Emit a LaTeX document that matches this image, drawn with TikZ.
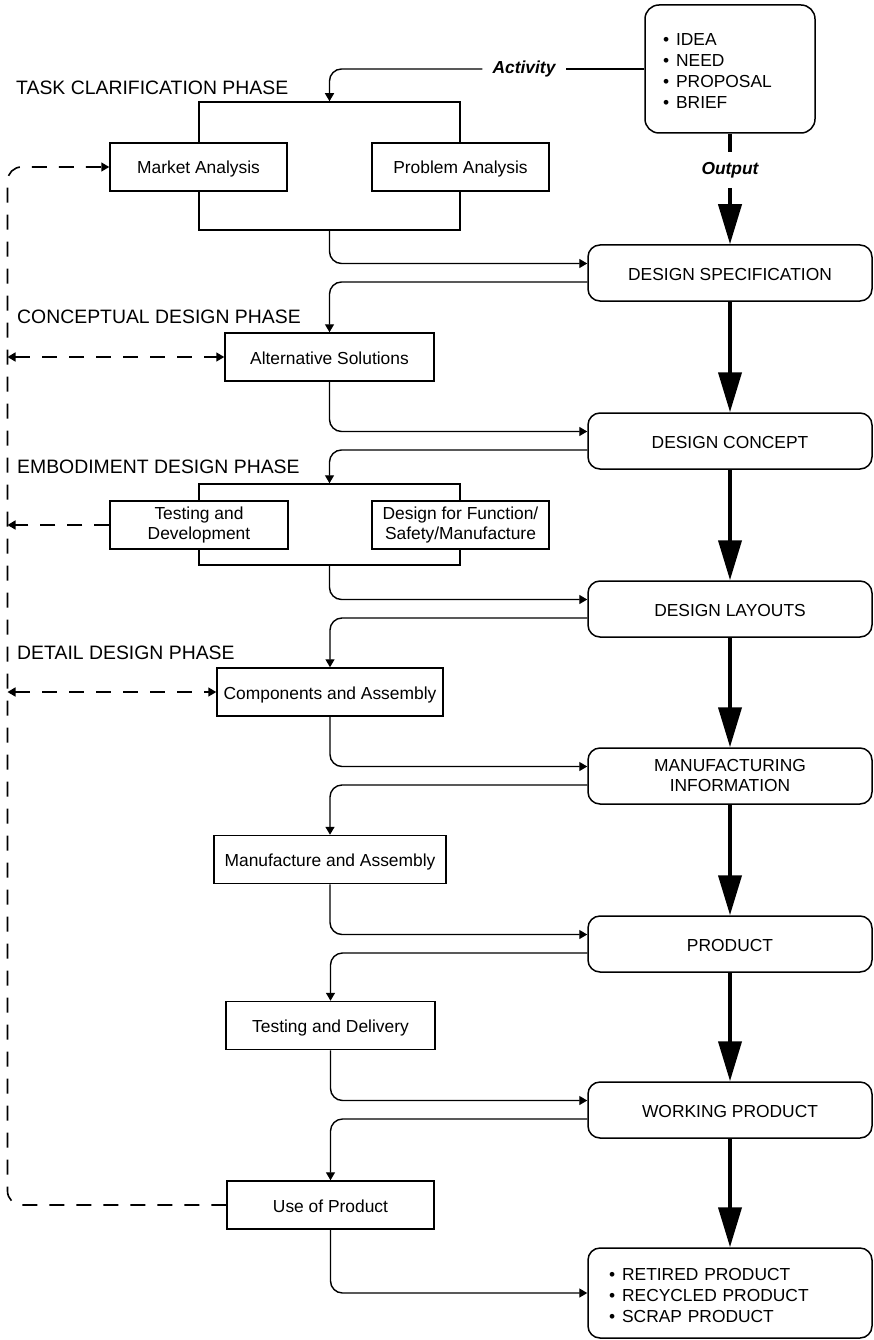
\documentclass[tikz,border=0pt]{standalone}
\usepackage{fontspec}
\setmainfont{Liberation Sans}
\usetikzlibrary{arrows.meta}
\tikzset{
  ftip/.tip={Triangle[length=8pt,width=9pt]},
  btip/.tip={Triangle[length=40pt,width=23pt]},
}
\begin{document}
\begin{tikzpicture}[x=1pt,y=-1pt,
  every node/.style={font=\fontsize{17.4}{20}\selectfont},
  stage/.style={draw, line width=1.5pt, rounded corners=12pt, minimum width=284pt,
    minimum height=56pt, inner sep=0pt, fill=white, align=center},
  taskbox/.style={draw, line width=1.5pt, minimum height=48pt, inner sep=0pt,
    fill=white, align=center},
  oneline/.style={text height=14pt, text depth=0pt},
  phase/.style={anchor=west, inner sep=0pt, font=\fontsize{19.4}{22}\selectfont},
  flowarrow/.style={line width=1.4pt, rounded corners=12pt, -ftip},
  feed/.style={line width=1.6pt, dash pattern=on 15pt off 12pt},
  mainflow/.style={line width=4pt, -btip},
  listfont/.style={font=\fontsize{17.4}{21}\selectfont},
]
\useasboundingbox (0,0) rectangle (874,1340);

% starting point
\node[draw, line width=1.5pt, rounded corners=14pt, minimum width=170pt,
  minimum height=128pt, inner xsep=18pt, text width=134pt, align=left, listfont]
  (idea) at (730,69)
  {\rule{0pt}{17pt}\textbullet\hspace{7pt}IDEA\\\textbullet\hspace{7pt}NEED\\
   \textbullet\hspace{7pt}PROPOSAL\\\textbullet\hspace{7pt}BRIEF};

% main stages
\node[stage, oneline] (spec) at (730,273) {DESIGN SPECIFICATION};
\node[stage, oneline] (concept) at (730,441) {DESIGN CONCEPT};
\node[stage, oneline] (layouts) at (730,609) {DESIGN LAYOUTS};
\node[stage] (mfg) at (730,776) {MANUFACTURING\\INFORMATION};
\node[stage, oneline] (product) at (730,944) {PRODUCT};
\node[stage, oneline] (working) at (730,1110) {WORKING PRODUCT};
\node[stage, minimum height=90pt, inner xsep=21pt, text width=242pt, align=left,
  listfont] (final) at (730,1293)
  {\rule{0pt}{17pt}\textbullet\hspace{7pt}RETIRED PRODUCT\\\textbullet\hspace{7pt}RECYCLED PRODUCT\\
   \textbullet\hspace{7pt}SCRAP PRODUCT};

% phase headings
\node[phase] (ph1) at (16,88) {TASK CLARIFICATION PHASE};
\node[phase] (ph2) at (17,317) {CONCEPTUAL DESIGN PHASE};
\node[phase] (ph3) at (17,467) {EMBODIMENT DESIGN PHASE};
\node[phase] (ph4) at (17,653) {DETAIL DESIGN PHASE};

% activities
\node[taskbox, minimum width=261pt, minimum height=128pt, fill=none] (tcp) at (329.5,166) {};
\node[taskbox, oneline, minimum width=177pt] (market) at (198.5,167) {Market Analysis};
\node[taskbox, oneline, minimum width=177pt] (problem) at (460.5,167) {Problem Analysis};
\node[taskbox, oneline, minimum width=209pt] (alt) at (329.5,357) {Alternative Solutions};
\node[taskbox, minimum width=261pt, minimum height=81pt, fill=none] (emb) at (329.5,524.5) {};
\node[taskbox, minimum width=178pt] (testdev) at (199,525) {Testing and\\Development};
\node[taskbox, minimum width=177pt] (dff) at (460.5,525) {Design for Function/\\Safety/Manufacture};
\node[taskbox, oneline, minimum width=226pt] (comp) at (330,692) {Components and Assembly};
\node[taskbox, oneline, minimum width=232pt] (manuf) at (330,859.5) {Manufacture and Assembly};
\node[taskbox, oneline, minimum width=209pt] (testdel) at (330.5,1025.5) {Testing and Delivery};
\node[taskbox, oneline, minimum width=207pt] (use) at (330.5,1205) {Use of Product};

% connector labels
\node[font=\fontsize{17.4}{20}\selectfont\bfseries\itshape, inner xsep=10pt,
  inner ysep=0pt] (act) at (524,69) {Activity};
\node[font=\fontsize{17.4}{20}\selectfont\bfseries\itshape, inner sep=0pt,
  minimum height=36pt] (out) at (730,170) {Output};

% activity and output lines
\draw[line width=1.4pt] (idea.west) -- (act.east);
\draw[flowarrow] (act.west) -| (tcp.north);
\draw[line width=4pt] (idea.south) -- (out.north);
\draw[mainflow] (out.south) -- (spec.north);

% main vertical sequence
\draw[mainflow] (spec.south) -- (concept.north);
\draw[mainflow] (concept.south) -- (layouts.north);
\draw[mainflow] (layouts.south) -- (mfg.north);
\draw[mainflow] (mfg.south) -- (product.north);
\draw[mainflow] (product.south) -- (working.north);
\draw[mainflow] (working.south) -- (final.north);

% loops between activities and stages
\draw[flowarrow] (tcp.south) |- ([yshift=9.5pt]spec.west);
\draw[flowarrow] ([yshift=-9pt]spec.west) -| (alt.north);
\draw[flowarrow] (alt.south) |- ([yshift=9.5pt]concept.west);
\draw[flowarrow] ([yshift=-9pt]concept.west) -| (emb.north);
\draw[flowarrow] (emb.south) |- ([yshift=9.5pt]layouts.west);
\draw[flowarrow] ([yshift=-9pt]layouts.west) -| (comp.north);
\draw[flowarrow] (comp.south) |- ([yshift=9.5pt]mfg.west);
\draw[flowarrow] ([yshift=-9pt]mfg.west) -| (manuf.north);
\draw[flowarrow] (manuf.south) |- ([yshift=9.5pt]product.west);
\draw[flowarrow] ([yshift=-9pt]product.west) -| (testdel.north);
\draw[flowarrow] (testdel.south) |- ([yshift=9.5pt]working.west);
\draw[flowarrow] ([yshift=-9pt]working.west) -| (use.north);
\draw[flowarrow] (use.south) |- (final.west);

% feedback rail
\coordinate (rail) at (7.5,0);
\draw[feed, rounded corners=14pt, -ftip] (use.west) -| (rail |- market.west) -- (market.west);
\draw[feed, ftip-ftip] (rail |- alt.west) -- (alt.west);
\draw[feed, -ftip] (testdev.west) -- (rail |- testdev.west);
\draw[feed, ftip-ftip] (rail |- comp.west) -- (comp.west);
\end{tikzpicture}
\end{document}
